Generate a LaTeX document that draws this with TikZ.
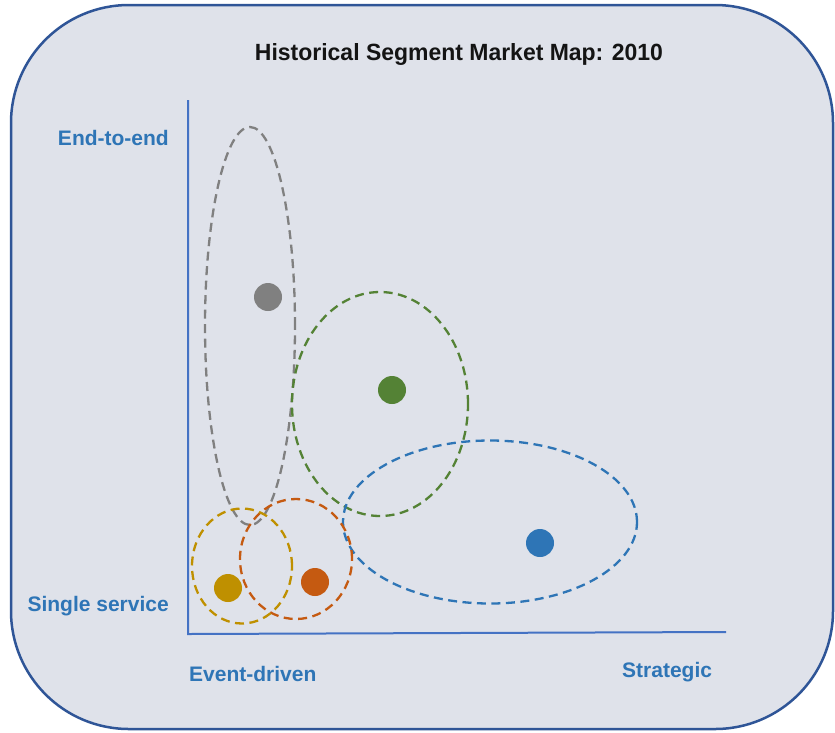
\documentclass[tikz,border=0pt]{standalone}
\usepackage{fontspec}
\setmainfont{Liberation Sans}
\usetikzlibrary{shapes.geometric}
\definecolor{panelfill}{HTML}{DFE2EA}
\definecolor{panelline}{HTML}{2F5597}
\definecolor{axisblue}{HTML}{4472C4}
\definecolor{labelblue}{HTML}{2E75B6}
\definecolor{segGray}{HTML}{808080}
\definecolor{segGreen}{HTML}{548235}
\definecolor{segBlue}{HTML}{2E75B6}
\definecolor{segOrange}{HTML}{C55A11}
\definecolor{segGold}{HTML}{BF9000}
\tikzset{
  axislabel/.style={text=labelblue, font=\fontsize{21}{24}\selectfont\bfseries, inner sep=0pt},
  dot/.style={circle, fill=#1, draw=none, minimum size=28pt, inner sep=0pt},
  region/.style={ellipse, draw=#1, line width=2.3pt, dash pattern=on 9pt off 5.5pt, inner sep=0pt},
}
\begin{document}
\begin{tikzpicture}[x=1pt,y=-1pt]
  \useasboundingbox (0,0) rectangle (835,732);
  % panel
  \draw[panelline, fill=panelfill, line width=2.5pt, rounded corners=118pt] (11,5) rectangle (833,729);
  % title: bold face squeezed to a condensed width
  \node[inner sep=0pt, anchor=base, text=black!92] (title) at (459,60)
    {\resizebox{408pt}{17pt}{\bfseries Historical Segment Market Map: 2010}};
  % axes
  \coordinate (ytop) at (188,100);
  \coordinate (origin) at (188,634);
  \coordinate (xend) at (726,632);
  \draw[axisblue, line width=2pt] (ytop) -- (origin) -- (xend);
  % axis labels
  \node[axislabel, anchor=east] (endtoend) at (169,138) {End-to-end};
  \node[axislabel, anchor=east] (single) at (169,606) {Single service};
  \node[axislabel, anchor=west] (event) at (189,674) {Event-driven};
  \node[axislabel, anchor=west] (strategic) at (622,672) {Strategic};
  % segment regions
  \node[region=segGray, minimum width=90pt, minimum height=398pt] (rGray) at (250,326) {};
  \node[region=segGreen, minimum width=176pt, minimum height=224pt] (rGreen) at (380,404) {};
  \node[region=segBlue, minimum width=294pt, minimum height=163pt] (rBlue) at (490,522) {};
  \node[region=segOrange, minimum width=112pt, minimum height=120pt] (rOrange) at (296,559) {};
  \node[region=segGold, minimum width=100pt, minimum height=115pt] (rGold) at (242,566) {};
  % segment positions
  \node[dot=segGray] (dGray) at (268,297) {};
  \node[dot=segGreen] (dGreen) at (392,390) {};
  \node[dot=segBlue] (dBlue) at (540,543) {};
  \node[dot=segOrange] (dOrange) at (315,582) {};
  \node[dot=segGold] (dGold) at (228,588) {};
\end{tikzpicture}
\end{document}
